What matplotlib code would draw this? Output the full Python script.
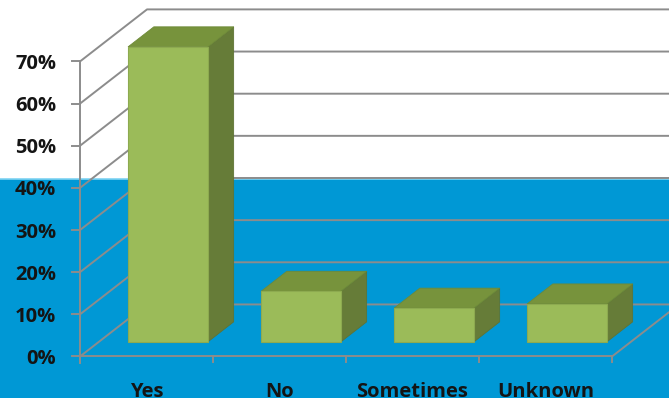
import matplotlib.pyplot as plt
from matplotlib.patches import Polygon

# Respuestas de la encuesta
categories = ['Yes', 'No', 'Sometimes', 'Unknown']
values = [70, 12, 8, 9]
y_ticks = [0, 10, 20, 30, 40, 50, 60, 70]
y_tick_labels = ['0%', '10%', '20%', '30%', '40%', '50%', '60%', '70%']

# Colores estilo Excel
bg_blue = '#0098D5'
grid_gray = '#8C8C8C'
face_front = '#9BBB59'
face_top = '#77933C'
face_side = '#667C38'
text_color = '#141414'

# Perspectiva oblicua de la caja 3D (en unidades de datos)
depth_x = 0.504
depth_y = 12.35
bar_width = 0.6
bar_shift = 0.02
bar_z0, bar_z1 = 0.28, 0.665

fig = plt.figure(figsize=(6.69, 3.98), dpi=100)
fig.patch.set_facecolor('white')
ax = fig.add_axes([0, 0, 1, 1])
ax.set_xlim(-0.6015, 4.4286)
ax.set_ylim(-9.85, 84.58)
ax.axis('off')

# Fondo azul en la parte inferior
ax.axhspan(-9.85, 42.2, color=bg_blue, zorder=0, lw=0)
ax.axhline(42.2, color='#7FD3F2', lw=1.2, zorder=0.5)

n = len(categories)
right = ax.get_xlim()[1] + 0.2

# Líneas de cuadrícula en la pared lateral y la pared del fondo
for y in y_ticks:
    ax.plot([0, depth_x, right], [y, y + depth_y, y + depth_y],
            color=grid_gray, lw=1.4, zorder=1, solid_capstyle='butt')
    ax.plot([-0.06, 0], [y, y], color=grid_gray, lw=1.4, zorder=1)

# Eje vertical y piso
ax.plot([0, 0], [-1.5, y_ticks[-1]], color=grid_gray, lw=1.4, zorder=1)
ax.plot([0, n], [0, 0], color=grid_gray, lw=1.4, zorder=1)
ax.plot([n, n + depth_x], [0, depth_y], color=grid_gray, lw=1.4, zorder=1)
for i in range(n + 1):
    ax.plot([i, i], [-1.4, 0], color=grid_gray, lw=1.4, zorder=1)

# Barras 3D
for i, v in enumerate(values):
    x0 = i + 0.5 - bar_width / 2 + bar_z0 * depth_x + bar_shift
    x1 = x0 + bar_width
    y0 = bar_z0 * depth_y
    y1 = y0 + v
    dx = (bar_z1 - bar_z0) * depth_x
    dy = (bar_z1 - bar_z0) * depth_y
    side = [(x1, y0), (x1 + dx, y0 + dy), (x1 + dx, y1 + dy), (x1, y1)]
    top = [(x0, y1), (x0 + dx, y1 + dy), (x1 + dx, y1 + dy), (x1, y1)]
    front = [(x0, y0), (x1, y0), (x1, y1), (x0, y1)]
    ax.add_patch(Polygon(side, closed=True, fc=face_side, ec='#5E7334', lw=0.6, zorder=3))
    ax.add_patch(Polygon(top, closed=True, fc=face_top, ec='#6E8A38', lw=0.6, zorder=3))
    ax.add_patch(Polygon(front, closed=True, fc=face_front, ec='#8DAA50', lw=0.8, zorder=4))

# Etiquetas de los ejes
font = ['Open Sans', 'DejaVu Sans']
for y, lab in zip(y_ticks, y_tick_labels):
    ax.text(-0.18, y, lab, ha='right', va='center_baseline', fontsize=14.5,
            fontweight='bold', color=text_color, family=font, zorder=5)
for i, cat in enumerate(categories):
    ax.text(i + 0.5, -7.9, cat, ha='center', va='center_baseline', fontsize=14.5,
            fontweight='bold', color=text_color, family=font, zorder=5)

fig.savefig('out.png', dpi=100)
